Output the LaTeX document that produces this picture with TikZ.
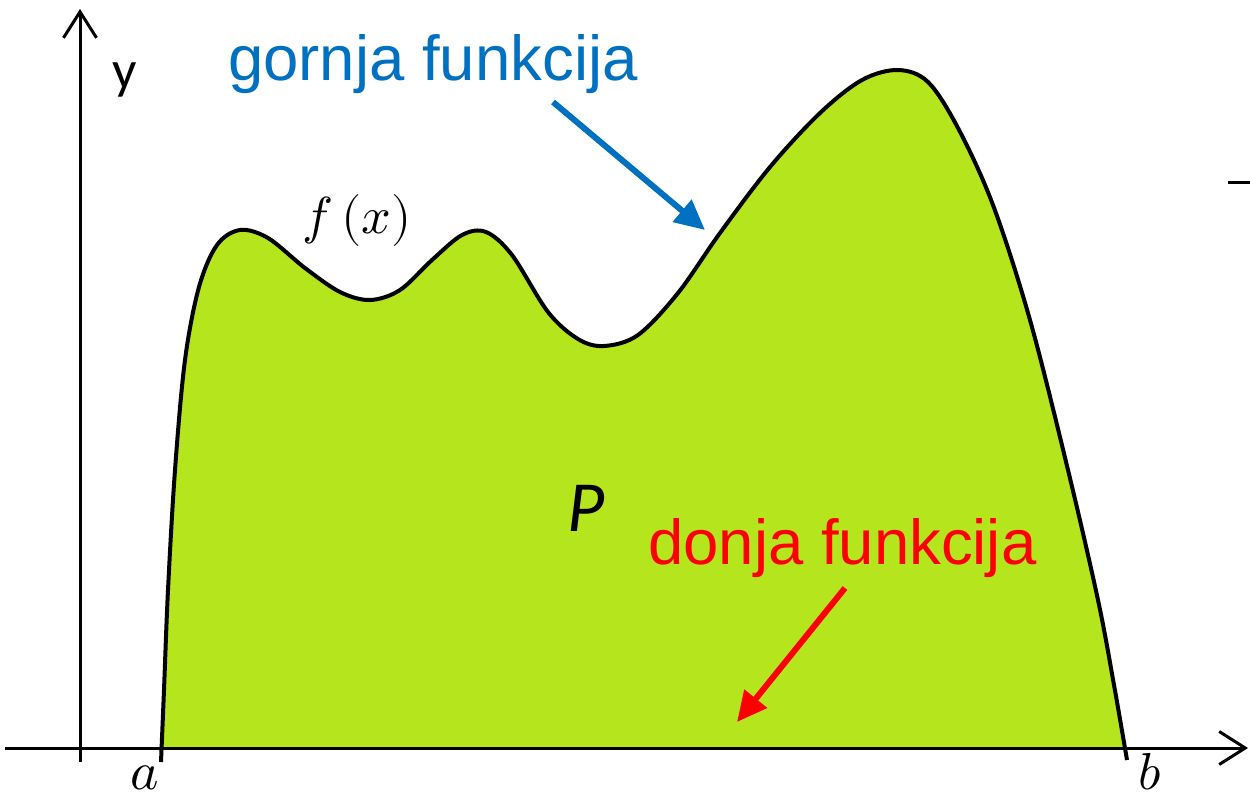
\documentclass[tikz,border=0pt]{standalone}
\usepackage{fontspec}
\usepackage{unicode-math}
\setmainfont{Liberation Sans}
\setmathfont{Latin Modern Math}
\newfontfamily\calib{Carlito}
\usetikzlibrary{arrows.meta}
\definecolor{areagreen}{RGB}{181,229,29}
\definecolor{topblue}{RGB}{0,112,192}
\definecolor{botred}{RGB}{255,0,0}
\tikzset{
  axisline/.style={line width=3pt,-{Straight Barb[length=26pt,width=33pt,line width=3pt]}},
  curveline/.style={line width=4pt},
  callout/.style={line width=6pt,-{Triangle[length=30pt,width=28pt]}},
  labeltext/.style={font=\fontsize{63.5}{70}\selectfont,inner sep=0pt,anchor=base west}
}
\begin{document}
\begin{tikzpicture}[x=1pt,y=-1pt]
\useasboundingbox (0,0) rectangle (1250,798);
\def\curvepts{(161,762) (164,690) (168,590) (175,470) (185,360) (199,287) (217,245) (240,230) (268,238) (305,268) (340,292) (370,300) (400,290) (432,260) (462,235) (486,232) (512,255) (548,312) (578,339) (604,346) (638,335) (678,293) (720,233) (770,167) (820,113) (862,80) (898,70) (928,82) (958,128) (993,205) (1030,320) (1068,470) (1098,600) (1114,685) (1127,760)}
\begin{scope}
  \clip (0,0) rectangle (1250,748);
  \fill[areagreen] plot[smooth,tension=0.55] coordinates {\curvepts} -- cycle;
\end{scope}
\draw[curveline,line join=round] plot[smooth,tension=0.55] coordinates {\curvepts};
% axes
\coordinate (xs) at (5,748);
\coordinate (xe) at (1248,748);
\coordinate (ys) at (80,762);
\coordinate (ye) at (80,9);
\draw[axisline] (xs) -- (xe);
\draw[axisline] (ys) -- (ye);
\coordinate (tk1) at (1228,182);
\coordinate (tk2) at (1250,182);
\draw[line width=3pt] (tk1) -- (tk2);
% labels
\node[font=\calib\fontsize{54}{60}\selectfont,inner sep=0pt] (ylab) at (125,80) {y};
\node[inner sep=0pt,font=\fontsize{52}{60}\selectfont] (fx) at (357,220) {$f\,(x)$};
\node[inner sep=0pt,font=\calib\itshape\fontsize{72}{80}\selectfont] (P) at (586,508) {P};
\node[inner sep=0pt,font=\fontsize{54}{60}\selectfont] (alab) at (145,778) {$a$};
\node[inner sep=0pt,font=\fontsize{52}{60}\selectfont] (blab) at (1150,772) {$b$};
\node[labeltext,text=topblue] (gornja) at (228,80) {gornja funkcija};
\node[labeltext,text=botred] (donja) at (648,564) {donja funkcija};
% callouts
\coordinate (bt) at (553,102);
\coordinate (bh) at (705,230);
\coordinate (rt) at (845,588);
\coordinate (rh) at (737,722);
\draw[callout,topblue] (bt) -- (bh);
\draw[callout,botred] (rt) -- (rh);
\end{tikzpicture}
\end{document}
